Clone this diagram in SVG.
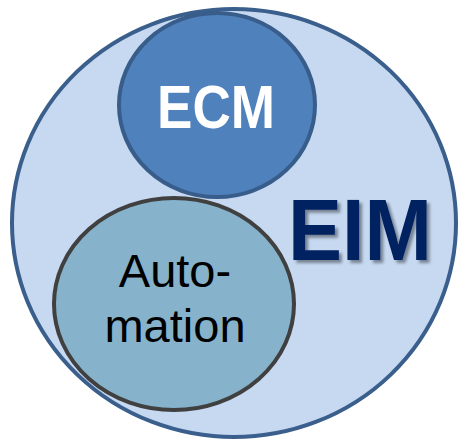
<svg xmlns="http://www.w3.org/2000/svg" width="460" height="443" viewBox="0 0 460 443">
  <defs>
    <filter id="shadow" x="-10%" y="-10%" width="130%" height="130%">
      <feGaussianBlur in="SourceAlpha" stdDeviation="1.5"/>
      <feOffset dx="2.5" dy="2.5" result="b"/>
      <feFlood flood-color="#000000" flood-opacity="0.4"/>
      <feComposite in2="b" operator="in" result="s"/>
      <feMerge><feMergeNode in="s"/><feMergeNode in="SourceGraphic"/></feMerge>
    </filter>
  </defs>
  <style>
    .lbl { font-family: "Liberation Sans", Arial, sans-serif; text-anchor: middle; }
  </style>
  <rect width="460" height="443" fill="#ffffff"/>
  <g id="eim">
    <ellipse cx="234" cy="223" rx="222" ry="214" fill="#c6d9f1" stroke="#3a5f8c" stroke-width="4"/>
    <text class="lbl" x="360" y="260" font-size="87" font-weight="bold" fill="#002060" textLength="144" lengthAdjust="spacingAndGlyphs" filter="url(#shadow)">EIM</text>
  </g>
  <g id="ecm">
    <ellipse cx="217" cy="105" rx="98" ry="92" fill="#4f81bd" stroke="#385d8a" stroke-width="4"/>
    <text class="lbl" x="216" y="128" font-size="61" font-weight="bold" fill="#ffffff" textLength="118" lengthAdjust="spacingAndGlyphs">ECM</text>
  </g>
  <g id="automation">
    <ellipse cx="174" cy="304" rx="120" ry="106" fill="#86b3cb" stroke="#404040" stroke-width="4"/>
    <text class="lbl" x="175" y="287" font-size="47" fill="#000000">Auto-</text>
    <text class="lbl" x="175" y="342" font-size="47" fill="#000000">mation</text>
  </g>
  <g id="connectors"/>
</svg>
